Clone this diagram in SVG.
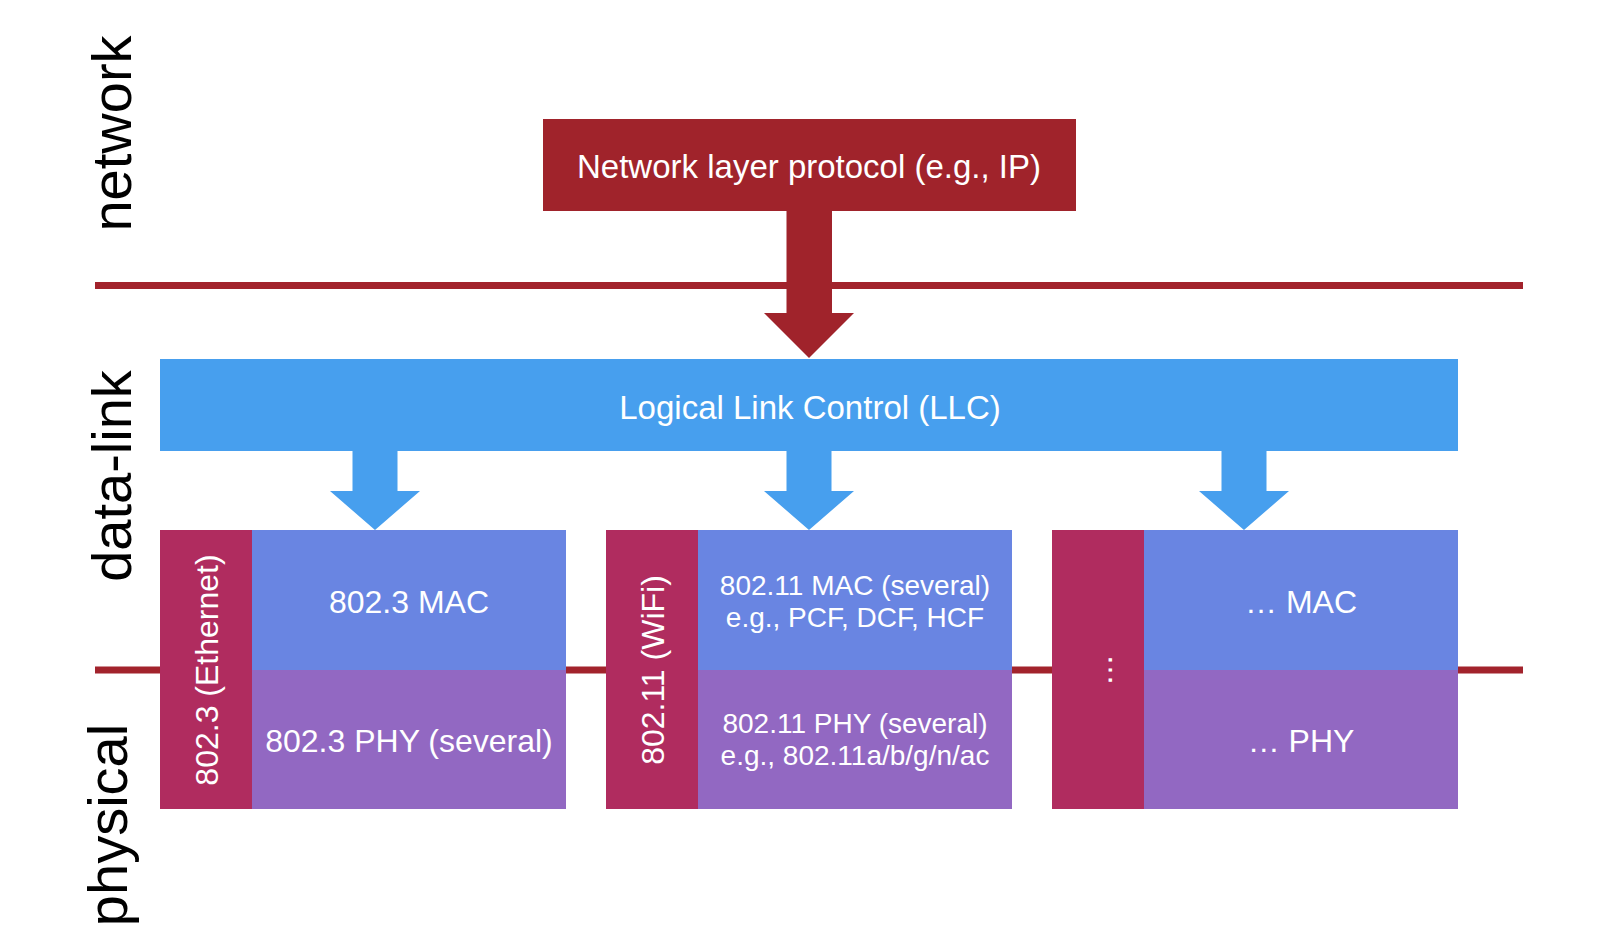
<svg xmlns="http://www.w3.org/2000/svg" width="1600" height="948" viewBox="0 0 1600 948">
<style>
text{font-family:"Liberation Sans",Arial,Helvetica,sans-serif;fill:#ffffff;text-anchor:middle}
.layer{fill:#000000;font-size:56px}
.t33{font-size:33px}
.t32{font-size:32px}
.t28{font-size:28px}
.sep{stroke:#A2232C;stroke-width:7}
.red{fill:#A0232B}
.llc{fill:#479FEE}
.mac{fill:#6985E2}
.phy{fill:#9268C2}
.std{fill:#B02C5F}
</style>
<rect x="0" y="0" width="1600" height="948" fill="#ffffff"/>
<g id="layer-lines">
<line class="sep" x1="95" y1="285.5" x2="1523" y2="285.5"/>
<line class="sep" x1="95" y1="670" x2="1523" y2="670"/>
</g>
<g id="layer-labels">
<text class="layer" transform="translate(131,133.5) rotate(-90)">network</text>
<text class="layer" transform="translate(131,476) rotate(-90)">data-link</text>
<text class="layer" transform="translate(127,825) rotate(-90)">physical</text>
</g>
<g id="network-protocol">
<rect class="red" x="543" y="119" width="533" height="92"/>
<text class="t33" x="809" y="177.5">Network layer protocol (e.g., IP)</text>
</g>
<g id="connectors">
<polygon class="red" points="786.5,210 832,210 832,313 854,313 809,358 764,313 786.5,313"/>
<polygon class="llc" points="352.5,450 397.5,450 397.5,491 420,491 375,530 330,491 352.5,491"/>
<polygon class="llc" points="786.5,450 831.5,450 831.5,491 854,491 809,530 764,491 786.5,491"/>
<polygon class="llc" points="1221.5,450 1266.5,450 1266.5,491 1289,491 1244,530 1199,491 1221.5,491"/>
</g>
<g id="llc">
<rect class="llc" x="160" y="359" width="1298" height="92"/>
<text class="t33" x="810" y="418.5">Logical Link Control (LLC)</text>
</g>
<g id="ethernet">
<rect class="std" x="160" y="530" width="92" height="279"/>
<text class="t32" transform="translate(218,670) rotate(-90)">802.3 (Ethernet)</text>
<rect class="mac" x="252" y="530" width="314" height="140"/>
<text class="t32" x="409" y="613">802.3 MAC</text>
<rect class="phy" x="252" y="670" width="314" height="139"/>
<text class="t32" x="409" y="752">802.3 PHY (several)</text>
</g>
<g id="wifi">
<rect class="std" x="606" y="530" width="92" height="279"/>
<text class="t32" transform="translate(664,670) rotate(-90)">802.11 (WiFi)</text>
<rect class="mac" x="698" y="530" width="314" height="140"/>
<text class="t28" x="855" y="595">802.11 MAC (several)</text>
<text class="t28" x="855" y="627">e.g., PCF, DCF, HCF</text>
<rect class="phy" x="698" y="670" width="314" height="139"/>
<text class="t28" x="855" y="733">802.11 PHY (several)</text>
<text class="t28" x="855" y="765">e.g., 802.11a/b/g/n/ac</text>
</g>
<g id="other">
<rect class="std" x="1052" y="530" width="92" height="279"/>
<text class="t32" transform="translate(1112,670) rotate(-90)">…</text>
<rect class="mac" x="1144" y="530" width="314" height="140"/>
<text class="t32" x="1301" y="613">… MAC</text>
<rect class="phy" x="1144" y="670" width="314" height="139"/>
<text class="t32" x="1301" y="752">… PHY</text>
</g>
</svg>
